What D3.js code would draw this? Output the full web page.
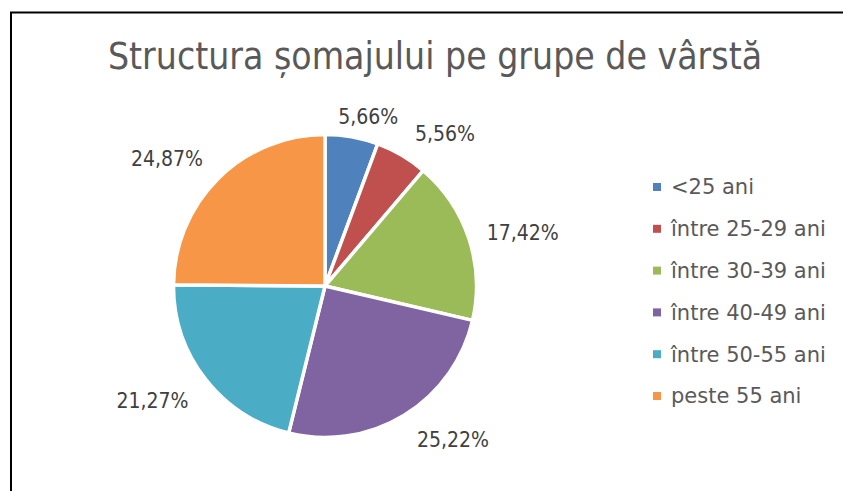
<!DOCTYPE html>
<html><head><meta charset="utf-8">
<script src="https://cdn.jsdelivr.net/npm/d3@7"></script>
<style>html,body{margin:0;padding:0;background:#fff;}svg{display:block;}</style>
</head><body>
<script>
const categories = ["<25 ani","între 25-29 ani","între 30-39 ani","între 40-49 ani","între 50-55 ani","peste 55 ani"];
const values = [5.66, 5.56, 17.42, 25.22, 21.27, 24.87];
const labels = ["5,66%","5,56%","17,42%","25,22%","21,27%","24,87%"];
const colors = ["#4F81BD","#C0504D","#9BBB59","#8064A2","#4BACC6","#F79646"];
const title = "Structura șomajului pe grupe de vârstă";

const W = 843, H = 491;
const svg = d3.select("body").append("svg").attr("width", W).attr("height", H);
const fontC = "'DejaVu Sans Condensed', 'DejaVu Sans', Verdana, sans-serif";
const font = "'DejaVu Sans', Verdana, sans-serif";

svg.append("rect").attr("x", 11).attr("y", 12.5).attr("width", 900).attr("height", 600)
  .attr("fill", "#fff").attr("stroke", "#000").attr("stroke-width", 2);

svg.append("text").attr("x", 435).attr("y", 68.5).attr("text-anchor", "middle")
  .attr("font-family", fontC).attr("font-size", 37).attr("fill", "#595959").text(title);

const cx = 325, cy = 286, R = 151.5;
const pie = d3.pie().sort(null).value(d => d)(values);
const arc = d3.arc().innerRadius(0).outerRadius(R);
const labelArc = d3.arc().innerRadius(R * 1.2).outerRadius(R * 1.2);
// layout nudges for label placement (pixels)
const nudge = [[11,10],[28,4],[25,4],[33,-1],[-29,3],[-30,2]];

const g = svg.append("g").attr("transform", `translate(${cx},${cy})`);
g.selectAll("path").data(pie).join("path")
  .attr("d", arc).attr("fill", (d,i) => colors[i])
  .attr("stroke", "#fff").attr("stroke-width", 3.5).attr("stroke-linejoin", "round");

g.selectAll("text.lbl").data(pie).join("text").attr("class","lbl")
  .attr("x", (d,i) => labelArc.centroid(d)[0] + nudge[i][0])
  .attr("y", (d,i) => labelArc.centroid(d)[1] + nudge[i][1])
  .attr("dy", "0.35em").attr("text-anchor","middle")
  .attr("font-family", fontC).attr("font-size", 21).attr("fill", "#404040")
  .text((d,i) => labels[i]);

const lg = svg.append("g");
const y = d3.scalePoint().domain(categories).range([187, 396]);
const rows = lg.selectAll("g").data(categories).join("g")
  .attr("transform", d => `translate(653,${y(d)})`);
rows.append("rect").attr("x", 0).attr("y", -4).attr("width", 8).attr("height", 8)
  .attr("fill", (d,i) => colors[i]);
rows.append("text").attr("x", 18).attr("dy", "0.35em")
  .attr("font-family", font).attr("font-size", 21).attr("fill", "#595959").text(d => d);
</script>
</body></html>
